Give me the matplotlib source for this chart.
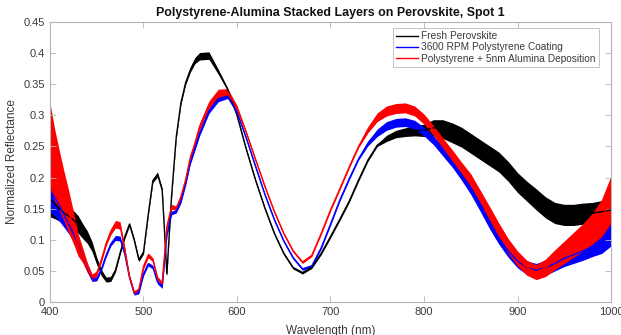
import numpy as np
import matplotlib
matplotlib.use("Agg")
import matplotlib.pyplot as plt

plt.rcParams['font.family'] = ['Liberation Sans', 'DejaVu Sans']

# Sampling grid (nm): 5 nm steps through the interference fringes, 10 nm after
wavelength = list(range(400, 561, 5)) + list(range(570, 1001, 10))

fresh = [
    0.165, 0.158, 0.150, 0.143, 0.138, 0.132, 0.125, 0.114, 0.104, 0.089,
    0.066, 0.047, 0.036, 0.037, 0.051, 0.079, 0.105, 0.125, 0.100, 0.068,
    0.080, 0.140, 0.195, 0.205, 0.180, 0.045, 0.170, 0.265, 0.320, 0.352,
    0.373, 0.388, 0.395,
    0.396, 0.370, 0.342, 0.300, 0.245, 0.195, 0.150, 0.110, 0.078, 0.055,
    0.047, 0.056, 0.078, 0.105, 0.133, 0.162, 0.196, 0.228, 0.252, 0.263,
    0.270, 0.273, 0.275, 0.276, 0.280, 0.278, 0.272, 0.265, 0.255, 0.245,
    0.235, 0.225, 0.210, 0.192, 0.178, 0.165, 0.152, 0.143, 0.140, 0.140,
    0.142, 0.143, 0.145, 0.148,
]
fresh_spread = [
    0.028, 0.024, 0.020, 0.018, 0.016, 0.015, 0.014, 0.012, 0.010, 0.008,
    0.006, 0.005, 0.004, 0.004, 0.003, 0.003, 0.003, 0.003, 0.003, 0.003,
    0.003, 0.003, 0.003, 0.004, 0.003, 0.003, 0.003, 0.003, 0.003, 0.003,
    0.004, 0.005, 0.006,
    0.006, 0.004, 0.002, 0.002, 0.002, 0.002, 0.002, 0.002, 0.002, 0.002,
    0.002, 0.002, 0.002, 0.002, 0.002, 0.002, 0.002, 0.002, 0.002, 0.005,
    0.006, 0.007, 0.008, 0.010, 0.013, 0.015, 0.016, 0.016, 0.016, 0.016,
    0.016, 0.016, 0.016, 0.016, 0.016, 0.017, 0.017, 0.017, 0.017, 0.017,
    0.017, 0.017, 0.018, 0.018,
]

polystyrene = [
    0.180, 0.168, 0.155, 0.140, 0.125, 0.110, 0.093, 0.075, 0.054, 0.037,
    0.037, 0.053, 0.075, 0.093, 0.103, 0.102, 0.077, 0.040, 0.014, 0.016,
    0.045, 0.061, 0.056, 0.032, 0.025, 0.108, 0.143, 0.146, 0.162, 0.190,
    0.224, 0.247, 0.271,
    0.307, 0.327, 0.331, 0.305, 0.263, 0.217, 0.172, 0.132, 0.098, 0.071,
    0.053, 0.058, 0.087, 0.125, 0.164, 0.198, 0.230, 0.255, 0.272, 0.283,
    0.288, 0.289, 0.285, 0.274, 0.260, 0.243, 0.225, 0.205, 0.182, 0.155,
    0.128, 0.103, 0.082, 0.066, 0.055, 0.051, 0.055, 0.062, 0.070, 0.076,
    0.082, 0.089, 0.096, 0.110,
]
polystyrene_spread = [
    0.035, 0.030, 0.025, 0.020, 0.015, 0.012, 0.010, 0.008, 0.006, 0.004,
    0.003, 0.003, 0.003, 0.003, 0.004, 0.004, 0.003, 0.003, 0.003, 0.003,
    0.003, 0.003, 0.003, 0.003, 0.003, 0.003, 0.003, 0.003, 0.003, 0.003,
    0.003, 0.003, 0.004,
    0.004, 0.005, 0.004, 0.002, 0.002, 0.002, 0.002, 0.002, 0.002, 0.002,
    0.002, 0.002, 0.002, 0.002, 0.002, 0.002, 0.002, 0.004, 0.006, 0.007,
    0.007, 0.007, 0.007, 0.007, 0.007, 0.008, 0.008, 0.009, 0.009, 0.009,
    0.010, 0.010, 0.010, 0.011, 0.011, 0.011, 0.012, 0.012, 0.013, 0.014,
    0.015, 0.016, 0.018, 0.020,
]

alumina = [
    0.250, 0.220, 0.195, 0.170, 0.145, 0.120, 0.092, 0.075, 0.055, 0.040,
    0.046, 0.068, 0.094, 0.113, 0.125, 0.123, 0.084, 0.040, 0.015, 0.020,
    0.057, 0.075, 0.068, 0.038, 0.030, 0.121, 0.153, 0.151, 0.169, 0.196,
    0.232, 0.255, 0.282,
    0.317, 0.335, 0.337, 0.312, 0.272, 0.228, 0.185, 0.145, 0.110, 0.082,
    0.064, 0.075, 0.110, 0.148, 0.182, 0.217, 0.250, 0.277, 0.297, 0.307,
    0.311, 0.312, 0.307, 0.294, 0.276, 0.256, 0.236, 0.216, 0.196, 0.170,
    0.143, 0.116, 0.090, 0.070, 0.055, 0.048, 0.055, 0.068, 0.080, 0.092,
    0.104, 0.118, 0.135, 0.165,
]
alumina_spread = [
    0.070, 0.058, 0.048, 0.040, 0.034, 0.026, 0.018, 0.012, 0.008, 0.005,
    0.004, 0.004, 0.004, 0.005, 0.006, 0.006, 0.004, 0.003, 0.003, 0.003,
    0.004, 0.004, 0.003, 0.003, 0.003, 0.004, 0.004, 0.003, 0.003, 0.003,
    0.003, 0.004, 0.005,
    0.006, 0.007, 0.006, 0.004, 0.002, 0.002, 0.002, 0.002, 0.002, 0.002,
    0.002, 0.002, 0.002, 0.002, 0.002, 0.002, 0.002, 0.005, 0.007, 0.008,
    0.008, 0.008, 0.008, 0.008, 0.008, 0.008, 0.009, 0.009, 0.010, 0.010,
    0.011, 0.011, 0.012, 0.012, 0.012, 0.012, 0.014, 0.016, 0.018, 0.020,
    0.022, 0.025, 0.030, 0.038,
]

series_labels = [
    "Fresh Perovskite",
    "3600 RPM Polystyrene Coating",
    "Polystyrene + 5nm Alumina Deposition",
]
series_colors = ["black", "blue", "red"]

x_ticks = [400, 500, 600, 700, 800, 900, 1000]
y_ticks = [0, 0.05, 0.1, 0.15, 0.2, 0.25, 0.3, 0.35, 0.4, 0.45]
y_tick_labels = ["0", "0.05", "0.1", "0.15", "0.2", "0.25", "0.3", "0.35", "0.4", "0.45"]

fig = plt.figure(figsize=(6.21, 3.35), dpi=100)
ax = fig.add_axes([0.0805, 0.0985, 0.9034, 0.8358])

wl = np.array(wavelength, dtype=float)
handles = []
for vals, spread, color, label in zip(
        [fresh, polystyrene, alumina],
        [fresh_spread, polystyrene_spread, alumina_spread],
        series_colors, series_labels):
    v = np.array(vals)
    s = np.array(spread)
    ax.fill_between(wl, v - s, v + s, color=color, lw=0)
    line, = ax.plot(wl, v, color=color, lw=1.0, label=label)
    handles.append(line)

ax.set_xlim(400, 1000)
ax.set_ylim(0, 0.45)
ax.set_xticks(x_ticks)
ax.set_yticks(y_ticks)
ax.set_yticklabels(y_tick_labels)

axis_grey = "#b4b4b4"
label_grey = "#3a3a3a"
for sp in ax.spines.values():
    sp.set_color(axis_grey)
    sp.set_linewidth(0.8)
ax.tick_params(direction="in", length=4, width=0.6, color=axis_grey,
               labelcolor=label_grey, labelsize=8, top=True, right=True)

ax.set_title("Polystyrene-Alumina Stacked Layers on Perovskite, Spot 1",
             fontsize=8.9, fontweight="bold", pad=4, color="#111111")
ax.set_xlabel("Wavelength (nm)", fontsize=8.5, color=label_grey, labelpad=6)
ax.set_ylabel("Normalized Reflectance", fontsize=8.5, color=label_grey, labelpad=4)

leg = ax.legend(handles=handles, loc="upper right", bbox_to_anchor=(0.9785, 0.978),
                fontsize=7.3, frameon=True, fancybox=False, borderpad=0.3,
                labelspacing=0.12, handlelength=2.2, handletextpad=0.3,
                borderaxespad=0)
leg.get_frame().set_edgecolor(axis_grey)
leg.get_frame().set_linewidth(0.7)
for t in leg.get_texts():
    t.set_color(label_grey)

fig.savefig("out.png", dpi=100, facecolor="white")
